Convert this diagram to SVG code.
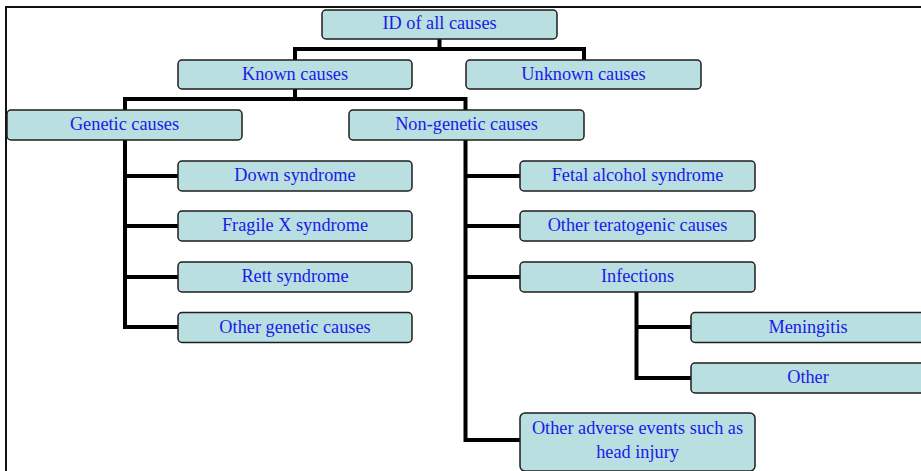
<svg xmlns="http://www.w3.org/2000/svg" width="921" height="471" viewBox="0 0 921 471">
<style>
.box{fill:#b9dfe0;stroke:#1e1e1e;stroke-width:1.5}
.lbl{font-family:"Liberation Serif","Times New Roman",serif;font-size:18.3px;fill:#1a1ae8;text-anchor:middle}
.con{fill:none;stroke:#000;stroke-width:4;stroke-linejoin:miter}
</style>
<rect width="921" height="471" fill="#fff"/>
<path d="M6,471 V7 H921" fill="none" stroke="#111" stroke-width="2"/>
<g id="connectors">
<path class="con" d="M439.5,39 V49 M295,60 V49 H584 V60"/>
<path class="con" d="M295,89 V99 M125,110 V99 H465.5 V110"/>
<path class="con" d="M125,140 V327 H178 M125,176 H178 M125,226 H178 M125,277 H178"/>
<path class="con" d="M465.5,140 V440 H520 M465.5,176 H520 M465.5,226 H520 M465.5,277 H520"/>
<path class="con" d="M636.5,292 V378 H691 M636.5,327 H691"/>
</g>
<g id="n-id"><rect class="box" x="322" y="10" width="235" height="29" rx="4"/><text class="lbl" x="439.5" y="29">ID of all causes</text></g>
<g id="n-known"><rect class="box" x="178" y="60" width="234" height="29" rx="4"/><text class="lbl" x="295" y="79.5">Known causes</text></g>
<g id="n-unknown"><rect class="box" x="466" y="60" width="235" height="29" rx="4"/><text class="lbl" x="583.5" y="79.5">Unknown causes</text></g>
<g id="n-genetic"><rect class="box" x="7" y="110" width="235" height="30" rx="4"/><text class="lbl" x="124.5" y="130">Genetic causes</text></g>
<g id="n-nongenetic"><rect class="box" x="349" y="110" width="235" height="30" rx="4"/><text class="lbl" x="466.5" y="130">Non-genetic causes</text></g>
<g id="n-down"><rect class="box" x="178" y="161" width="234" height="30" rx="4"/><text class="lbl" x="295" y="181">Down syndrome</text></g>
<g id="n-fragile"><rect class="box" x="178" y="211" width="234" height="30" rx="4"/><text class="lbl" x="295" y="231">Fragile X syndrome</text></g>
<g id="n-rett"><rect class="box" x="178" y="262" width="234" height="30" rx="4"/><text class="lbl" x="295" y="282">Rett syndrome</text></g>
<g id="n-othergen"><rect class="box" x="178" y="312.5" width="234" height="30" rx="4"/><text class="lbl" x="295" y="332.5">Other genetic causes</text></g>
<g id="n-fetal"><rect class="box" x="520" y="161" width="235" height="30" rx="4"/><text class="lbl" x="637.5" y="181">Fetal alcohol syndrome</text></g>
<g id="n-terato"><rect class="box" x="520" y="211" width="235" height="30" rx="4"/><text class="lbl" x="637.5" y="231">Other teratogenic causes</text></g>
<g id="n-infections"><rect class="box" x="520" y="262" width="235" height="30" rx="4"/><text class="lbl" x="637.5" y="282">Infections</text></g>
<g id="n-meningitis"><rect class="box" x="691" y="312.5" width="236" height="30" rx="4"/><text class="lbl" x="808" y="332.5">Meningitis</text></g>
<g id="n-other"><rect class="box" x="691" y="363" width="236" height="30" rx="4"/><text class="lbl" x="808" y="383">Other</text></g>
<g id="n-adverse"><rect class="box" x="520" y="413" width="235" height="58" rx="5"/><text class="lbl" x="637.5" y="434">Other adverse events such as</text><text class="lbl" x="637.5" y="458">head injury</text></g>
</svg>
